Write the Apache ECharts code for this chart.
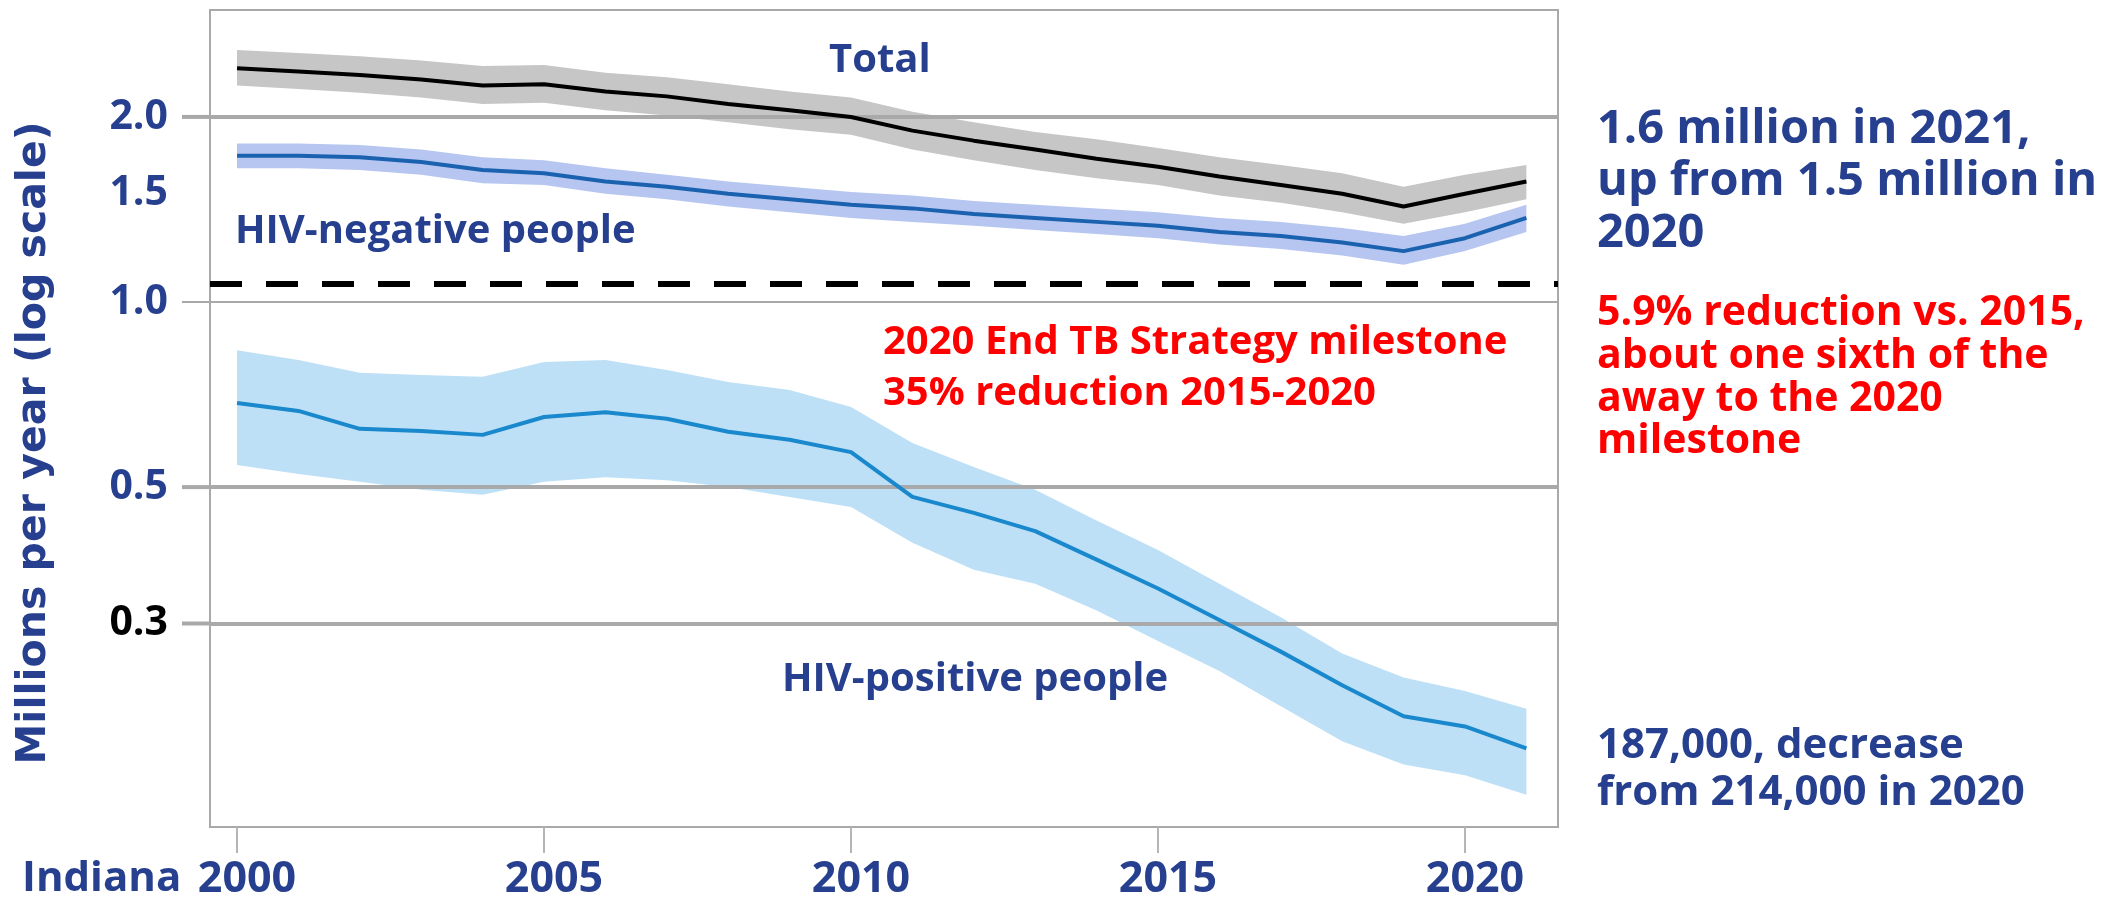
<!DOCTYPE html>
<html>
<head>
<meta charset="utf-8">
<title>TB deaths</title>
<script src="https://cdn.jsdelivr.net/npm/echarts@6/dist/echarts.min.js"></script>
<style>
  html, body { margin: 0; padding: 0; background: #fff; }
  #chart { width: 2104px; height: 902px; }
</style>
</head>
<body>
<div id="chart"></div>
<script>
// values, millions per year
const years = [2000, 2001, 2002, 2003, 2004, 2005, 2006, 2007, 2008, 2009, 2010,
               2011, 2012, 2013, 2014, 2015, 2016, 2017, 2018, 2019, 2020, 2021];

const total     = [2.40, 2.37, 2.34, 2.30, 2.25, 2.26, 2.20, 2.16, 2.10, 2.05, 2.00,
                   1.90, 1.83, 1.77, 1.71, 1.66, 1.60, 1.55, 1.50, 1.43, 1.50, 1.57];
const totalHigh = [2.57, 2.54, 2.51, 2.47, 2.42, 2.43, 2.36, 2.32, 2.26, 2.20, 2.15,
                   2.04, 1.96, 1.89, 1.84, 1.78, 1.72, 1.67, 1.62, 1.54, 1.61, 1.67];
const totalLow  = [2.25, 2.22, 2.19, 2.15, 2.10, 2.11, 2.05, 2.01, 1.96, 1.91, 1.87,
                   1.77, 1.70, 1.64, 1.59, 1.55, 1.49, 1.45, 1.40, 1.34, 1.40, 1.47];

const hivNeg     = [1.73, 1.73, 1.72, 1.69, 1.64, 1.62, 1.57, 1.54, 1.50, 1.47, 1.44,
                    1.42, 1.39, 1.37, 1.35, 1.33, 1.30, 1.28, 1.25, 1.21, 1.27, 1.37];
const hivNegHigh = [1.81, 1.81, 1.80, 1.77, 1.72, 1.70, 1.65, 1.61, 1.57, 1.54, 1.51,
                    1.49, 1.46, 1.44, 1.42, 1.40, 1.37, 1.35, 1.32, 1.28, 1.34, 1.44];
const hivNegLow  = [1.65, 1.65, 1.64, 1.61, 1.56, 1.55, 1.50, 1.47, 1.43, 1.40, 1.37,
                    1.35, 1.33, 1.31, 1.29, 1.27, 1.24, 1.22, 1.19, 1.15, 1.21, 1.30];

const hivPos     = [0.685, 0.665, 0.622, 0.617, 0.608, 0.650, 0.662, 0.646, 0.615, 0.597, 0.570,
                    0.482, 0.454, 0.424, 0.381, 0.342, 0.304, 0.270, 0.238, 0.212, 0.204, 0.188];
const hivPosHigh = [0.835, 0.805, 0.767, 0.761, 0.756, 0.799, 0.805, 0.775, 0.741, 0.719, 0.675,
                    0.590, 0.539, 0.495, 0.441, 0.395, 0.348, 0.307, 0.268, 0.245, 0.233, 0.218];
const hivPosLow  = [0.543, 0.525, 0.510, 0.495, 0.486, 0.510, 0.519, 0.513, 0.500, 0.482, 0.464,
                    0.406, 0.367, 0.348, 0.315, 0.281, 0.251, 0.220, 0.193, 0.177, 0.170, 0.158];

const milestone = 1.07;                     // 2020 End TB Strategy milestone
const gridValues = [2.0, 1.0, 0.5, 0.3];
const yTickValues = [2.0, 1.5, 1.0, 0.5, 0.3];
const yTickLabels = ['2.0', '1.5', '1.0', '0.5', '0.3'];
const xTickValues = [2000, 2005, 2010, 2015, 2020];

const NAVY = '#263f8e';
const RED = '#ff0000';
const FONT = '"Open Sans", "Noto Sans", sans-serif';

const dom = document.getElementById('chart');
const myChart = echarts.init(dom, null, { renderer: 'canvas' });

function pairs(vals) {
  return years.map((y, i) => [y, vals[i]]);
}

// uncertainty band drawn as one polygon through the axes
function band(name, low, high, color) {
  return {
    type: 'custom',
    name: name,
    z: 1,
    silent: true,
    data: years.map((y, i) => [y, low[i], high[i]]),
    renderItem: function (params, api) {
      if (params.dataIndex !== 0) return null;
      const pts = [];
      for (let i = 0; i < years.length; i++) pts.push(api.coord([years[i], high[i]]));
      for (let i = years.length - 1; i >= 0; i--) pts.push(api.coord([years[i], low[i]]));
      return { type: 'polygon', shape: { points: pts }, style: { fill: color } };
    }
  };
}

function text(str, x, y, size, color, family) {
  return {
    type: 'text', x: x, y: y, silent: true,
    style: {
      text: str, fill: color, fontSize: size, fontWeight: 'bold',
      fontFamily: family || FONT, align: 'left', verticalAlign: 'middle'
    }
  };
}

const gridLines = yTickValues.map(function (v, i) {
  const isGrid = gridValues.indexOf(v) >= 0;
  return {
    yAxis: v,
    lineStyle: {
      color: isGrid ? '#a9a9a9' : 'rgba(0,0,0,0)',
      width: v === 1.0 ? 2 : 4, type: 'solid'
    },
    label: {
      show: true, position: 'start', distance: 42, formatter: yTickLabels[i],
      color: v === 0.3 ? '#000' : NAVY, fontSize: 41, fontWeight: 'bold', fontFamily: FONT
    }
  };
});
gridLines.push({
  yAxis: milestone,
  lineStyle: { color: '#000', width: 6, type: [32, 24] },
  label: { show: false }
});

const annotations = [
  text('Total', 829, 61, 40, NAVY),
  text('HIV-negative people', 235, 232, 40, NAVY),
  text('HIV-positive people', 782, 680, 40, NAVY),
  text('2020 End TB Strategy milestone', 883, 343, 40, RED),
  text('35% reduction 2015-2020', 883, 394, 40, RED),
  text('1.6 million in 2021,', 1597, 130, 47, NAVY),
  text('up from 1.5 million in', 1597, 182, 47, NAVY),
  text('2020', 1597, 234, 47, NAVY),
  text('5.9% reduction vs. 2015,', 1597, 313, 41, RED),
  text('about one sixth of the', 1597, 356, 41, RED),
  text('away to the 2020', 1597, 399, 41, RED),
  text('milestone', 1597, 441, 41, RED),
  text('187,000, decrease', 1597, 746, 42, NAVY),
  text('from 214,000 in 2020', 1597, 793, 42, NAVY),
  text('Indiana', 22, 879, 42, NAVY),
  {
    type: 'text', x: 34, y: 443, rotation: Math.PI / 2, silent: true,
    style: {
      text: 'Millions per year (log scale)', fill: NAVY, fontSize: 41, fontWeight: 'bold',
      fontFamily: '"DejaVu Sans", sans-serif', align: 'center', verticalAlign: 'middle'
    }
  }
];

const option = {
  animation: false,
  backgroundColor: '#fff',
  grid: {
    left: 210, right: 546, top: 10, bottom: 75,
    show: true, borderColor: '#a9a9a9', borderWidth: 2
  },
  xAxis: {
    type: 'value',
    min: 1999.56,
    max: 2021.515,
    axisLine: { show: false },
    splitLine: { show: false },
    axisTick: {
      show: true, customValues: xTickValues, length: 26,
      lineStyle: { color: '#b5b5b5', width: 2 }
    },
    axisLabel: {
      customValues: xTickValues, margin: 31, padding: [0, 0, 0, 20],
      color: NAVY, fontSize: 43, fontWeight: 'bold', fontFamily: FONT,
      formatter: function (v) { return String(v); }
    }
  },
  yAxis: {
    type: 'log',
    logBase: 10,
    min: 0.14,
    max: 2.985,
    axisLine: { show: false },
    axisTick: { show: false },
    axisLabel: { show: false },
    splitLine: { show: false }
  },
  graphic: annotations,
  series: [
    band('Total range', totalLow, totalHigh, '#c6c6c6'),
    band('HIV-negative range', hivNegLow, hivNegHigh, '#b6c6f0'),
    band('HIV-positive range', hivPosLow, hivPosHigh, '#bde0f7'),
    {
      type: 'line', name: 'gridlines', z: 2, data: [], silent: true,
      markLine: { silent: true, symbol: 'none', z: 2, animation: false, data: gridLines }
    },
    {
      type: 'line', name: 'Total', z: 3, data: pairs(total), symbol: 'none',
      lineStyle: { color: '#000', width: 4 }
    },
    {
      type: 'line', name: 'HIV-negative people', z: 3, data: pairs(hivNeg), symbol: 'none',
      lineStyle: { color: '#1a62b0', width: 4 }
    },
    {
      type: 'line', name: 'HIV-positive people', z: 3, data: pairs(hivPos), symbol: 'none',
      lineStyle: { color: '#1a88cc', width: 4 }
    }
  ]
};

myChart.setOption(option);

// short stubs of the gridlines that stick out left of the frame
const stubs = gridValues.map(function (v) {
  const y = myChart.convertToPixel({ yAxisIndex: 0 }, v);
  return {
    type: 'line', silent: true,
    shape: { x1: 182, y1: y, x2: 210, y2: y },
    style: { stroke: '#a9a9a9', lineWidth: v === 1.0 ? 2 : 4 }
  };
});
myChart.setOption({ graphic: annotations.concat(stubs) });

window.addEventListener('resize', myChart.resize);
</script>
</body>
</html>
